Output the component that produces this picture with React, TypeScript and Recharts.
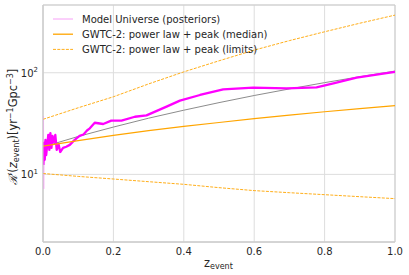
import React from 'react';
import { LineChart, Line, XAxis, YAxis, CartesianGrid, Legend, ReferenceArea } from 'recharts';

// ---- data ----
const zTicks = [0, 0.2, 0.4, 0.6, 0.8, 1.0];
const yTicks = [10, 100];

const gwtcZ = [0, 0.1, 0.2, 0.3, 0.4, 0.5, 0.6, 0.7, 0.8, 0.9, 1.0];
const gwtcMedian = [19.0, 21.5, 24.2, 26.9, 29.6, 32.4, 35.3, 38.3, 41.3, 44.3, 47.4];
const gwtcUpper = [34.8, 45.2, 58.0, 77.6, 102, 131, 167, 207, 253, 307, 369];
const gwtcLower = [10.2, 9.55, 9.0, 8.47, 7.98, 7.4, 6.92, 6.6, 6.31, 6.03, 5.77];
const referenceRate = [18.6, 23.6, 29.2, 35.7, 42.8, 50.8, 59.7, 69.3, 79.9, 91.4, 103.8];

const modelZ = [
  0.001, 0.003, 0.005, 0.007, 0.009, 0.012, 0.015, 0.018, 0.021, 0.024, 0.027, 0.031, 0.035,
  0.039, 0.044, 0.049, 0.057, 0.066, 0.076, 0.085, 0.095, 0.104, 0.115, 0.125, 0.133, 0.147,
  0.171, 0.194, 0.223, 0.261, 0.294, 0.351, 0.389, 0.446, 0.512, 0.597, 0.692, 0.777, 0.825,
  0.891, 1.0,
];
const modelRate = [
  12.4, 20.4, 13.9, 21.8, 15.5, 19.5, 24.4, 17.4, 25.5, 18.2, 23.9, 20.8, 24.4,
  17.4, 19.9, 16.6, 18.2, 18.7, 19.5, 21.0, 22.6, 23.9, 24.7, 27.0, 28.4, 32.2,
  31.3, 33.8, 33.8, 36.9, 38.1, 46.4, 53.1, 60.4, 68.7, 71.3, 70.3, 71.8, 78.7,
  89.3, 102,
];

const posteriorZ = [0.0015, 0.002, 0.0025];
const posteriorRate = [37.5, 7.2, 20];

const legendLabels = [
  'Model Universe (posteriors)',
  'GWTC-2: power law + peak (median)',
  'GWTC-2: power law + peak (limits)',
];

// ---- tables built from the arrays ----
const toRows = (zs: number[], vs: number[]) => zs.map((z, i) => ({ z, v: vs[i] }));
const medianRows = toRows(gwtcZ, gwtcMedian);
const upperRows = toRows(gwtcZ, gwtcUpper);
const lowerRows = toRows(gwtcZ, gwtcLower);
const refRows = toRows(gwtcZ, referenceRate);
const modelRows = toRows(modelZ, modelRate);
const posteriorRows = toRows(posteriorZ, posteriorRate);

const FONT = 'DejaVu Sans';
const TEXT = '#262626';
const ORANGE = '#ffa500';
const PINK = '#f7a0f7';
const MAGENTA = '#ff00ff';

const Y_MIN = 2.16;
const Y_MAX = 464;

const XTick = (props: any) => {
  const { x, y, payload } = props;
  return (
    <text x={x} y={y + 7.7} textAnchor="middle" fontSize={10} fontFamily={FONT} fill={TEXT}>
      {Number(payload.value).toFixed(1)}
    </text>
  );
};

const YTick = (props: any) => {
  const { x, y, payload } = props;
  const exp = Math.round(Math.log10(payload.value));
  return (
    <text x={x} y={y + 3.8} textAnchor="end" fontSize={10} fontFamily={FONT} fill={TEXT}>
      <tspan>10</tspan>
      <tspan fontSize={7} dy={-4.5}>{exp}</tspan>
    </text>
  );
};

const LegendBox = () => {
  const styles = [
    { color: PINK, width: 1, dash: undefined as string | undefined },
    { color: ORANGE, width: 1.3, dash: undefined as string | undefined },
    { color: ORANGE, width: 0.9, dash: '3 1.3' },
  ];
  return (
    <svg width={409} height={60} style={{ display: 'block' }}>
      {legendLabels.map((label, i) => {
        const y = 19 + i * 15.2;
        return (
          <g key={label}>
            <line x1={53} x2={73} y1={y} y2={y} stroke={styles[i].color} strokeWidth={styles[i].width} strokeDasharray={styles[i].dash} />
            <text x={82} y={y + 3.6} fontSize={10} fontFamily={FONT} fill={TEXT}>{label}</text>
          </g>
        );
      })}
    </svg>
  );
};

export default function App() {
  return (
    <div style={{ position: 'absolute', left: 0, top: 0, width: 409, height: 275, background: '#fff' }}>
      <LineChart width={409} height={275} margin={{ top: 5, right: 14, bottom: 0, left: 0 }}>
        <CartesianGrid stroke="#dddddd" strokeWidth={1} />
        <XAxis
          type="number"
          dataKey="z"
          domain={[0, 1]}
          ticks={zTicks}
          height={33}
          tickLine={false}
          tickSize={3}
          axisLine={{ stroke: '#cccccc' }}
          tick={<XTick />}
          allowDataOverflow
          label={() => (
            <text x={204} y={266.5} fontFamily={FONT} fill={TEXT}>
              <tspan fontSize={11.4}>z</tspan>
              <tspan fontSize={8} dy={2.4}>event</tspan>
            </text>
          )}
        />
        <YAxis
          type="number"
          scale="log"
          domain={[Y_MIN, Y_MAX]}
          ticks={yTicks}
          width={43}
          tickLine={false}
          tickSize={3}
          axisLine={{ stroke: '#cccccc' }}
          tick={<YTick />}
          allowDataOverflow
          label={() => (
            <text transform="translate(17,127) rotate(-90)" textAnchor="middle" fontSize={11.4} fontFamily={FONT} fill={TEXT}>
              <tspan fontFamily="DejaVu Serif" fontStyle="italic">ℛ</tspan>
              <tspan>′(</tspan>
              <tspan fontStyle="italic">z</tspan>
              <tspan fontSize={8} dy={2.4}>event</tspan>
              <tspan dy={-2.4}>)[yr</tspan>
              <tspan fontSize={8} dy={-4.5}>−1</tspan>
              <tspan dy={4.5}>Gpc</tspan>
              <tspan fontSize={8} dy={-4.5}>−3</tspan>
              <tspan dy={4.5}>]</tspan>
            </text>
          )}
        />
        <ReferenceArea x1={0} x2={1} y1={Y_MIN} y2={Y_MAX} fill="none" stroke="#cccccc" strokeWidth={1} ifOverflow="visible" />
        <Legend
          layout="vertical"
          align="center"
          verticalAlign="middle"
          content={() => <LegendBox />}
          wrapperStyle={{ position: 'absolute', left: 0, top: 0, width: 409, height: 60 }}
        />
        <Line data={posteriorRows} dataKey="v" type="linear" stroke={PINK} strokeWidth={1} dot={false} isAnimationActive={false} />
        <Line data={refRows} dataKey="v" type="linear" stroke="#8c8c8c" strokeWidth={1} dot={false} isAnimationActive={false} />
        <Line data={modelRows} dataKey="v" type="linear" stroke={MAGENTA} strokeWidth={2.3} strokeLinejoin="round" dot={false} isAnimationActive={false} />
        <Line data={medianRows} dataKey="v" type="linear" stroke={ORANGE} strokeWidth={1.2} dot={false} isAnimationActive={false} />
        <Line data={upperRows} dataKey="v" type="linear" stroke={ORANGE} strokeWidth={0.9} strokeDasharray="3 1.3" dot={false} isAnimationActive={false} />
        <Line data={lowerRows} dataKey="v" type="linear" stroke={ORANGE} strokeWidth={0.9} strokeDasharray="3 1.3" dot={false} isAnimationActive={false} />
      </LineChart>
    </div>
  );
}
